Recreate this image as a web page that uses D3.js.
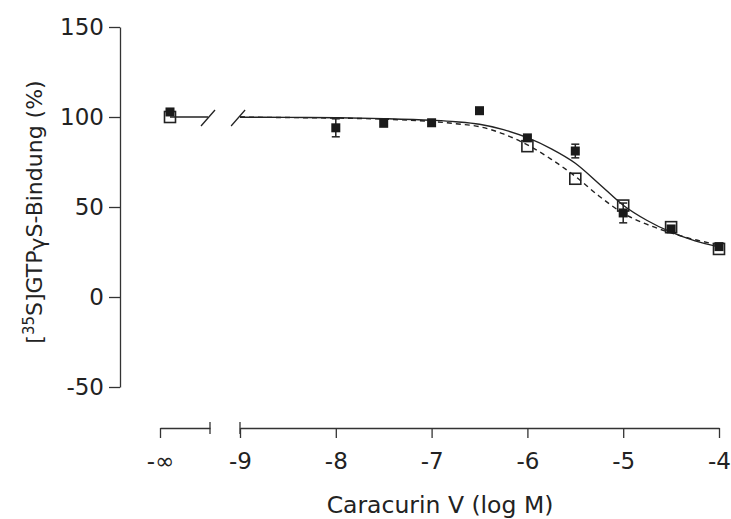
<!DOCTYPE html>
<html>
<head>
<meta charset="utf-8">
<script src="https://cdn.jsdelivr.net/npm/d3@7"></script>
<style>
  body { margin: 0; background: #fff; }
  svg text { font-family: "DejaVu Sans", sans-serif; fill: #222; }
</style>
</head>
<body>
<svg class="dose-chart"></svg>
<script>
// concentrations (log M) of the measured points
const logConc = [-8, -7.5, -7, -6.5, -6, -5.5, -5, -4.5, -4];
// filled squares (series 1) and open squares (series 2), % binding
const filledValues = [94, 96.5, 96.8, 103.5, 88.4, 81.1, 46.7, 37.8, 28];
const filledErr = [5, 0, 0, 0, 1, 3.8, 5.5, 0, 0];
const openValues = [null, null, null, null, 83.8, 65.7, 50.8, 38.8, 26.7];
// basal points at -inf
const basalFilled = 102.8;
const basalOpen = 100;
// fitted curves
const curveLog = [-9, -8.5, -8, -7.5, -7, -6.75, -6.5, -6.25, -6, -5.75, -5.5, -5.25, -5, -4.75, -4.5, -4.25, -4];
const solidCurve = [99.9, 99.8, 99.6, 99.1, 98.2, 97.4, 96.0, 93.0, 88.5, 82.3, 74.3, 62.8, 51, 42.5, 36, 31.2, 27.8];
const dashedCurve = [99.9, 99.7, 99.4, 98.8, 97.5, 96.3, 94.6, 90.6, 84.5, 76.5, 67, 56, 46.5, 40.3, 35.6, 31.8, 29];
const xTicks = [-9, -8, -7, -6, -5, -4];
const yTicks = [-50, 0, 50, 100, 150];

const svgWidth = 731;
const svgHeight = 519;
const svg = d3.select('.dose-chart')
    .attr('width', svgWidth)
    .attr('height', svgHeight);

const x = d3.scaleLinear().domain([-9, -4]).range([240, 719]);
// short axis piece for the -inf (no drug) points
const xInf = d3.scaleLinear().domain([0, 1]).range([160, 210]);
const y = d3.scaleLinear().domain([-50, 150]).range([387, 27]);
const axisY = 428;
const ink = '#333';
const fmt = d => (d < 0 ? '-' : '') + Math.abs(d);

// y axis
const gy = svg.append('g')
    .attr('transform', 'translate(120,0)')
    .call(d3.axisLeft(y).tickValues(yTicks).tickFormat(fmt).tickSize(11).tickPadding(5).tickSizeOuter(0));
gy.select('.domain').attr('stroke', ink).attr('stroke-width', 1.3);
gy.selectAll('.tick line').attr('stroke', ink).attr('stroke-width', 1.3);
gy.selectAll('.tick text')
    .attr('font-size', 23)
    .attr('font-family', '"DejaVu Sans", sans-serif')
    .attr('fill', '#222');

// main x axis
const gx = svg.append('g')
    .attr('transform', `translate(0,${axisY})`)
    .call(d3.axisBottom(x).tickValues(xTicks).tickFormat(fmt).tickSize(10).tickPadding(15).tickSizeOuter(0));
gx.select('.domain').attr('stroke', ink).attr('stroke-width', 1.3);
gx.selectAll('.tick line').attr('stroke', ink).attr('stroke-width', 1.3);
gx.selectAll('.tick text')
    .attr('font-size', 23)
    .attr('font-family', '"DejaVu Sans", sans-serif')
    .attr('fill', '#222');

// -inf axis piece
const gInf = svg.append('g')
    .attr('transform', `translate(0,${axisY})`)
    .call(d3.axisBottom(xInf).tickValues([0]).tickSize(10).tickPadding(15).tickSizeOuter(0));
gInf.select('.domain').attr('stroke', ink).attr('stroke-width', 1.3);
gInf.selectAll('.tick line').attr('stroke', ink).attr('stroke-width', 1.3);
gInf.selectAll('.tick text')
    .attr('font-size', 23)
    .attr('font-family', '"DejaVu Sans", sans-serif')
    .attr('fill', '#222')
    .text('-\u221E');

// break bars
[xInf(1), x(-9)].forEach(px => {
    svg.append('line')
        .attr('x1', px).attr('x2', px)
        .attr('y1', axisY - 6).attr('y2', axisY + 6)
        .attr('stroke', ink).attr('stroke-width', 1.3);
});

// curves
const line = d3.line()
    .x(d => x(d[0]))
    .y(d => y(d[1]))
    .curve(d3.curveMonotoneX);

svg.append('path')
    .datum(d3.zip(curveLog, dashedCurve))
    .attr('fill', 'none')
    .attr('stroke', '#222')
    .attr('stroke-width', 1.4)
    .attr('stroke-dasharray', '5,4')
    .attr('d', line);

svg.append('path')
    .datum(d3.zip(curveLog, solidCurve))
    .attr('fill', 'none')
    .attr('stroke', '#222')
    .attr('stroke-width', 1.4)
    .attr('d', line);

// basal line piece with break slashes
svg.append('line')
    .attr('x1', xInf(0.2)).attr('x2', xInf(0.96))
    .attr('y1', y(basalOpen)).attr('y2', y(basalOpen))
    .attr('stroke', '#222').attr('stroke-width', 1.4);
svg.append('line')
    .attr('x1', x(-9)).attr('x2', x(-8.95))
    .attr('y1', y(basalOpen)).attr('y2', y(basalOpen))
    .attr('stroke', '#222').attr('stroke-width', 1.4);
[xInf(0.96), x(-9.02)].forEach(px => {
    svg.append('line')
        .attr('x1', px - 7).attr('x2', px + 7)
        .attr('y1', y(basalOpen) + 9).attr('y2', y(basalOpen) - 7)
        .attr('stroke', '#222').attr('stroke-width', 1.3);
});

// error bars for filled squares
const errData = logConc.map((c, i) => ({c, v: filledValues[i], e: filledErr[i]})).filter(d => d.e > 0);
const eb = svg.append('g').attr('stroke', '#222').attr('stroke-width', 1.5);
errData.forEach(d => {
    const cx = x(d.c);
    eb.append('line').attr('x1', cx).attr('x2', cx).attr('y1', y(d.v + d.e)).attr('y2', y(d.v - d.e));
    eb.append('line').attr('x1', cx - 4).attr('x2', cx + 4).attr('y1', y(d.v + d.e)).attr('y2', y(d.v + d.e));
    eb.append('line').attr('x1', cx - 4).attr('x2', cx + 4).attr('y1', y(d.v - d.e)).attr('y2', y(d.v - d.e));
});

// open squares
const openPts = logConc.map((c, i) => ({px: x(c), v: openValues[i]})).filter(d => d.v !== null);
openPts.push({px: xInf(0.2), v: basalOpen});
svg.append('g').selectAll('rect')
    .data(openPts)
    .join('rect')
    .attr('x', d => d.px - 5.5)
    .attr('y', d => y(d.v) - 5.5)
    .attr('width', 11)
    .attr('height', 11)
    .attr('fill', 'none')
    .attr('stroke', '#222')
    .attr('stroke-width', 1.6);

// filled squares
const filledPts = logConc.map((c, i) => ({px: x(c), v: filledValues[i]}));
filledPts.push({px: xInf(0.2), v: basalFilled});
svg.append('g').selectAll('rect')
    .data(filledPts)
    .join('rect')
    .attr('x', d => d.px - 4.5)
    .attr('y', d => y(d.v) - 4.5)
    .attr('width', 9)
    .attr('height', 9)
    .attr('fill', '#1a1a1a');

// axis titles
svg.append('text')
    .attr('x', 440)
    .attr('y', 513)
    .attr('text-anchor', 'middle')
    .attr('font-size', 23.5)
    .text('Caracurin V (log M)');

const yTitle = svg.append('text')
    .attr('transform', 'translate(42,212) rotate(-90)')
    .attr('text-anchor', 'middle')
    .attr('font-size', 22);
yTitle.append('tspan').text('[');
yTitle.append('tspan').attr('font-size', 15).attr('dy', -8).text('35');
yTitle.append('tspan').attr('dy', 8).text('S]GTP');
yTitle.append('tspan').attr('dy', 3).text('\u03B3');
yTitle.append('tspan').attr('dy', -3).text('S-Bindung (%)');
</script>
</body>
</html>
